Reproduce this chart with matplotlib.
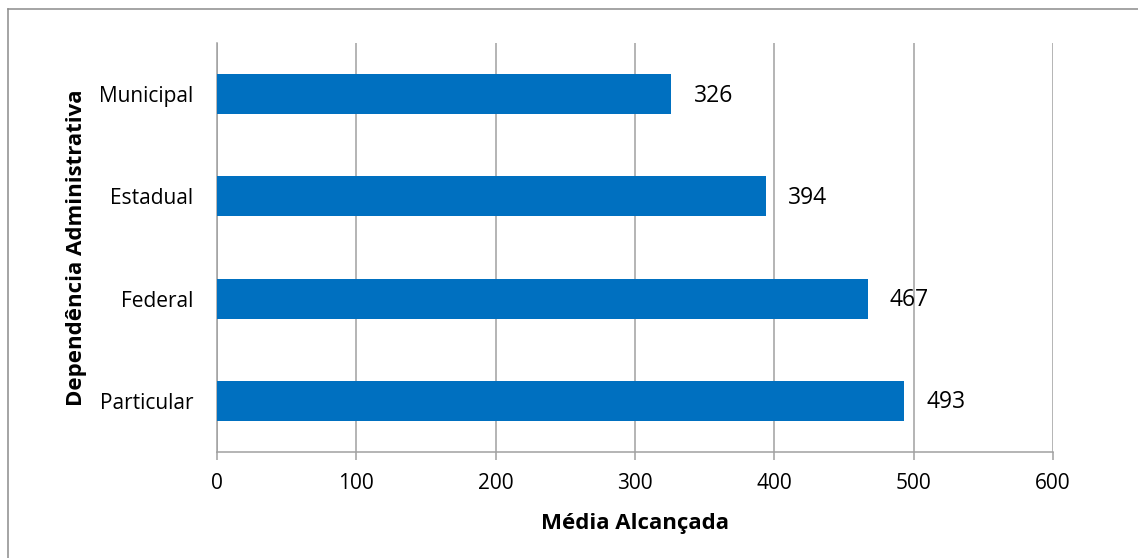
import matplotlib
matplotlib.use("Agg")
import matplotlib.pyplot as plt
from matplotlib.lines import Line2D

# average score by school administration
categorias = ["Municipal", "Estadual", "Federal", "Particular"]
medias = [326, 394, 467, 493]
xticks = [0, 100, 200, 300, 400, 500, 600]

plt.rcParams['font.family'] = ['Open Sans', 'DejaVu Sans']

fig = plt.figure(figsize=(11.38, 5.58), dpi=100)
ax = fig.add_axes([217/1138, 1 - 452/558, (1053 - 217)/1138, (452 - 43)/558])

pos = range(len(categorias))
ax.barh(pos, medias, height=0.39, color='#0070C0', zorder=3)
for p, v in zip(pos, medias):
    ax.annotate(str(v), xy=(v, p), xytext=(16, -1), textcoords='offset points',
                ha='left', va='center', fontsize=16.5, color='black')

ax.set_yticks(list(pos))
ax.set_yticklabels(categorias, fontsize=15)
ax.set_ylim(-0.5, len(categorias) - 0.5)
ax.invert_yaxis()

ax.set_xlim(0, 600)
ax.set_xticks(xticks)
ax.set_xticklabels([str(t) for t in xticks], fontsize=15)
ax.xaxis.grid(True, color='#A0A0A0', linewidth=1.1, zorder=0)

for s in ['top', 'right']:
    ax.spines[s].set_visible(False)
for s in ['left', 'bottom']:
    ax.spines[s].set_color('#A0A0A0')
    ax.spines[s].set_linewidth(1.1)
ax.tick_params(axis='x', length=6, color='#A0A0A0', width=1.1, pad=9)
ax.tick_params(axis='y', length=0, pad=17)

ax.set_xlabel("Média Alcançada", fontsize=16, fontweight='bold', labelpad=14)
ax.set_ylabel("Dependência Administrativa", fontsize=16, fontweight='bold', labelpad=9)

# outer frame (top and left edges)
fig.add_artist(Line2D([8/1138, 1], [1 - 9/558, 1 - 9/558], color='#8C8C8C', linewidth=1.1,
                      transform=fig.transFigure))
fig.add_artist(Line2D([8/1138, 8/1138], [0, 1 - 9/558], color='#8C8C8C', linewidth=1.1,
                      transform=fig.transFigure))

fig.savefig("out.png", dpi=100, facecolor='white')
